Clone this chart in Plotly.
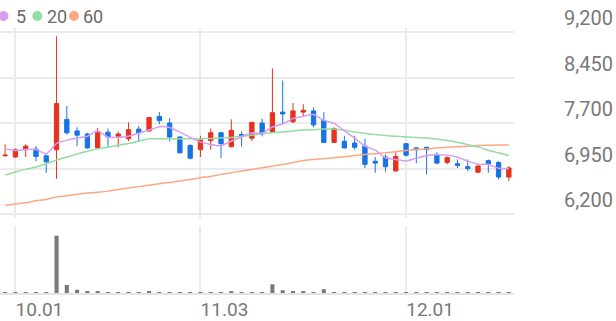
import plotly.graph_objects as go

# ---------------- data ----------------
dates = ["09.30", "10.01", "10.02", "10.10", "10.13", "10.14", "10.15", "10.16", "10.17", "10.20",
         "10.21", "10.22", "10.23", "10.24", "10.27", "10.28", "10.29", "10.30", "10.31", "11.03",
         "11.04", "11.05", "11.06", "11.07", "11.10", "11.11", "11.12", "11.13", "11.14", "11.17",
         "11.18", "11.19", "11.20", "11.21", "11.24", "11.25", "11.26", "11.27", "11.28", "12.01",
         "12.02", "12.03", "12.04", "12.05", "12.08", "12.09", "12.10", "12.11", "12.12", "12.15"]

opens = [7160, 7140, 7260, 7270, 7160, 7260, 7760, 7570, 7520, 7290,
         7550, 7480, 7440, 7600, 7570, 7810, 7700, 7470, 7330, 7260,
         7410, 7540, 7310, 7510, 7450, 7700, 7560, 7880, 7720, 7880,
         7900, 7740, 7380, 7400, 7370, 7320, 7070, 7140, 6910, 7360,
         7290, 7300, 7180, 7050, 7030, 6980, 6890, 7080, 7050, 6810]
highs = [7350, 7280, 7350, 7320, 7180, 9130, 7980, 7630, 7540, 7620,
         7610, 7560, 7710, 7650, 7800, 7880, 7780, 7480, 7350, 7490,
         7610, 7550, 7760, 7560, 7720, 7770, 8600, 8400, 8030, 8010,
         7960, 7880, 7630, 7490, 7490, 7440, 7140, 7180, 7240, 7370,
         7300, 7310, 7220, 7150, 7100, 7100, 7010, 7100, 7070, 6990]
lows = [7150, 7130, 7140, 7070, 6880, 6780, 7510, 7320, 7280, 7280,
        7300, 7300, 7400, 7400, 7550, 7680, 7400, 7200, 7100, 7140,
        7260, 7120, 7300, 7310, 7400, 7480, 7550, 7680, 7700, 7800,
        7630, 7370, 7370, 7280, 7260, 6960, 6880, 6900, 6900, 7150,
        7040, 6850, 7020, 7020, 6960, 6910, 6870, 6880, 6770, 6740]
closes = [7170, 7260, 7320, 7150, 7060, 8020, 7540, 7500, 7290, 7540,
          7470, 7520, 7590, 7540, 7790, 7740, 7470, 7210, 7120, 7420,
          7540, 7360, 7580, 7480, 7710, 7520, 7870, 7850, 7900, 7910,
          7670, 7380, 7610, 7290, 7300, 7020, 7040, 6980, 7150, 7170,
          7260, 7260, 7040, 7130, 7000, 6950, 6990, 7030, 6810, 6960]
volumes = [15000, 15000, 15000, 15000, 15000, 2300000, 320000, 130000, 65000, 65000,
           25000, 20000, 35000, 25000, 50000, 40000, 40000, 30000, 20000, 35000,
           25000, 20000, 50000, 20000, 20000, 20000, 350000, 110000, 50000, 50000,
           25000, 150000, 18000, 18000, 18000, 18000, 18000, 18000, 18000, 18000,
           18000, 18000, 18000, 18000, 18000, 18000, 25000, 18000, 25000, 18000]
ma5 = [7274, 7247, 7263, 7263, 7193, 7363, 7418, 7454, 7482, 7577,
       7466, 7464, 7483, 7533, 7584, 7638, 7626, 7549, 7464, 7389,
       7348, 7328, 7403, 7475, 7534, 7532, 7634, 7687, 7772, 7811,
       7841, 7743, 7695, 7572, 7451, 7320, 7253, 7127, 7100, 7074,
       7122, 7164, 7176, 7171, 7136, 7074, 7020, 7018, 6955, 6948]
ma20 = [6843, 6893, 6936, 6974, 7030, 7090, 7140, 7190, 7236, 7274,
        7302, 7334, 7362, 7400, 7440, 7443, 7443, 7443, 7440, 7443,
        7445, 7454, 7460, 7482, 7500, 7525, 7540, 7553, 7570, 7585,
        7591, 7602, 7602, 7580, 7553, 7531, 7509, 7493, 7482, 7471,
        7460, 7454, 7438, 7411, 7384, 7345, 7307, 7252, 7209, 7165]
ma60 = [6342, 6364, 6385, 6418, 6440, 6483, 6500, 6527, 6545, 6560,
        6578, 6605, 6630, 6652, 6675, 6700, 6720, 6745, 6770, 6800,
        6820, 6854, 6880, 6910, 6935, 6963, 6990, 7018, 7050, 7083,
        7100, 7111, 7128, 7144, 7165, 7182, 7195, 7209, 7228, 7247,
        7263, 7273, 7291, 7300, 7310, 7318, 7329, 7333, 7337, 7340]

price_ticks = [9200, 8450, 7700, 6950, 6200]
price_tick_text = ["9,200", "8,450", "7,700", "6,950", "6,200"]
date_ticks = ["10.01", "11.03", "12.01"]

legend_names = ["5", "20", "60"]

# ---------------- styling ----------------
RED = "#e5321e"
BLUE = "#1673e6"
C_MA5 = "#d69ef2"
C_MA20 = "#94dca0"
C_MA60 = "#f9a883"
GRID = "#ebebeb"
TXT = "#787878"
FONT = "Roboto"

W, H = 616, 321
ML, MR, MT, MB = 0, 102, 0, 28
PW = W - ML - MR
PH = H - MT - MB

fig = go.Figure()
fig.add_trace(go.Candlestick(
    x=dates, open=opens, high=highs, low=lows, close=closes,
    increasing=dict(line=dict(color=RED, width=1), fillcolor=RED),
    decreasing=dict(line=dict(color=BLUE, width=1), fillcolor=BLUE),
    whiskerwidth=0, showlegend=False, hoverinfo="skip"))

for vals, col in [(ma60, C_MA60), (ma20, C_MA20), (ma5, C_MA5)]:
    fig.add_trace(go.Scatter(x=dates, y=vals, mode="lines",
                             line=dict(color=col, width=1.5, shape="spline", smoothing=0.5),
                             showlegend=False, hoverinfo="skip"))

fig.add_trace(go.Bar(x=dates, y=volumes, yaxis="y2", marker_color="#7a7a7a",
                     marker_line_width=0, width=0.4, showlegend=False, hoverinfo="skip"))

def py(ypx):
    return (H - MB - ypx) / PH

def px(xpx):
    return (xpx - ML) / PW

shapes = []
annotations = []
legend_colors = [C_MA5, C_MA20, C_MA60]
dot_x = [3.5, 37.3, 74]
text_x = [14, 45, 81]
for name, col, dx, tx in zip(legend_names, legend_colors, dot_x, text_x):
    shapes.append(dict(type="circle", xref="paper", yref="paper",
                       xsizemode="pixel", ysizemode="pixel",
                       xanchor=px(dx), yanchor=py(16),
                       x0=-5, x1=5, y0=-5, y1=5,
                       fillcolor=col, line=dict(width=0)))
    annotations.append(dict(text=name, xref="paper", yref="paper", x=px(tx), y=py(16),
                            xanchor="left", yanchor="middle", showarrow=False,
                            font=dict(family=FONT, size=18, color="#6a6a6a")))

fig.update_layout(
    width=W, height=H,
    margin=dict(l=ML, r=MR, t=MT, b=MB, autoexpand=False),
    paper_bgcolor="white", plot_bgcolor="white",
    showlegend=False, boxgap=0.4, bargap=0.6,
    shapes=shapes, annotations=annotations,
    xaxis=dict(type="category", range=[-0.5, len(dates) - 0.5],
               rangeslider=dict(visible=False), automargin=False,
               tickvals=date_ticks, ticktext=date_ticks,
               showgrid=True, gridcolor=GRID, gridwidth=1.5,
               ticks="", tickfont=dict(family=FONT, size=19, color=TXT),
               ticklabelshift=24, ticklabelstandoff=-2,
               showline=True, linecolor="#e3e3e3", linewidth=1.5,
               anchor="y2", zeroline=False),
    yaxis=dict(domain=[py(218), py(28)], range=[6135, 9266], side="right",
               automargin=False,
               tickvals=price_ticks, ticktext=price_tick_text,
               showgrid=True, gridcolor=GRID, gridwidth=1.5, ticks="",
               tickfont=dict(family=FONT, size=20, color=TXT),
               ticklabelshift=-14, ticklabelstandoff=49, zeroline=False),
    yaxis2=dict(domain=[0, py(226)], range=[0, 2689000], automargin=False,
                showticklabels=False, showgrid=False, zeroline=False),
)

fig.write_html("out.html", config={"displayModeBar": False})
